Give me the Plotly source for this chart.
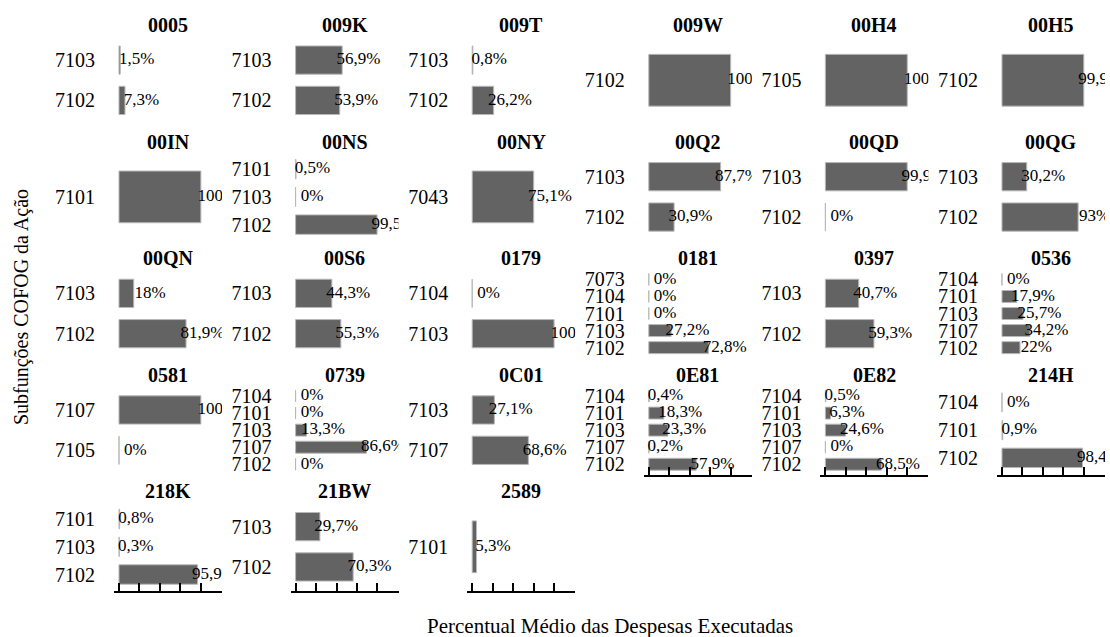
import plotly.graph_objects as go

# ---------------- data ----------------
panels = ["0005", "009K", "009T", "009W", "00H4", "00H5",
          "00IN", "00NS", "00NY", "00Q2", "00QD", "00QG",
          "00QN", "00S6", "0179", "0181", "0397", "0536",
          "0581", "0739", "0C01", "0E81", "0E82", "214H",
          "218K", "21BW", "2589"]

categories = [
    ["7103", "7102"], ["7103", "7102"], ["7103", "7102"], ["7102"], ["7105"], ["7102"],
    ["7101"], ["7101", "7103", "7102"], ["7043"], ["7103", "7102"], ["7103", "7102"], ["7103", "7102"],
    ["7103", "7102"], ["7103", "7102"], ["7104", "7103"], ["7073", "7104", "7101", "7103", "7102"],
    ["7103", "7102"], ["7104", "7101", "7103", "7107", "7102"],
    ["7107", "7105"], ["7104", "7101", "7103", "7107", "7102"], ["7103", "7107"],
    ["7104", "7101", "7103", "7107", "7102"], ["7104", "7101", "7103", "7107", "7102"],
    ["7104", "7101", "7102"],
    ["7101", "7103", "7102"], ["7103", "7102"], ["7101"],
]

values = [
    [1.5, 7.3], [56.9, 53.9], [0.8, 26.2], [100], [100], [99.9],
    [100], [0.5, 0, 99.5], [75.1], [87.7, 30.9], [99.9, 0], [30.2, 93],
    [18, 81.9], [44.3, 55.3], [0, 100], [0, 0, 0, 27.2, 72.8],
    [40.7, 59.3], [0, 17.9, 25.7, 34.2, 22],
    [100, 0], [0, 0, 13.3, 86.6, 0], [27.1, 68.6],
    [0.4, 18.3, 23.3, 0.2, 57.9], [0.5, 6.3, 24.6, 0, 68.5],
    [0, 0.9, 98.4],
    [0.8, 0.3, 95.9], [29.7, 70.3], [5.3],
]

x_ticks = [0, 25, 50, 75, 100, 125]
x_title = "Percentual Médio das Despesas Executadas"
y_title = "Subfunções COFOG da Ação"

# ---------------- layout geometry ----------------
W, H = 1110, 637
NCOL = 6
COL_LEFT0, COL_STEP, PANEL_W = 114, 176.6, 108
ROW_TOP0, ROW_STEP, PANEL_H = 35, 117, 89
LABEL_OFFSET = 20  # data units to the right of bar end for label centre

SERIF = "Liberation Serif, Times New Roman, serif"
BAR_FILL = "#636363"
BAR_LINE = "#b8b8b8"

def fmt(v):
    s = f"{v:g}".replace(".", ",")
    return s + "%"

fig = go.Figure()
n = len(panels)
annotations = []
layout_axes = {}

for i, (name, cats, vals) in enumerate(zip(panels, categories, values)):
    r, c = divmod(i, NCOL)
    idx = i + 1
    xa = "x" if idx == 1 else f"x{idx}"
    ya = "y" if idx == 1 else f"y{idx}"
    xkey = "xaxis" if idx == 1 else f"xaxis{idx}"
    ykey = "yaxis" if idx == 1 else f"yaxis{idx}"

    left = COL_LEFT0 + COL_STEP * c
    top = ROW_TOP0 + ROW_STEP * r
    xd = [left / W, min((left + PANEL_W) / W, 1.0)]
    yd = [1 - (top + PANEL_H) / H, 1 - top / H]

    fig.add_trace(go.Bar(
        x=vals, y=cats, orientation="h", xaxis=xa, yaxis=ya, width=0.7,
        marker=dict(color=BAR_FILL, line=dict(color=BAR_LINE, width=1)),
        showlegend=False, hoverinfo="x+y"))
    fig.add_trace(go.Scatter(
        x=[v + LABEL_OFFSET for v in vals], y=cats, mode="text",
        text=[fmt(v) for v in vals], textposition="middle center",
        textfont=dict(family=SERIF, size=17, color="black"),
        xaxis=xa, yaxis=ya, cliponaxis=True, showlegend=False, hoverinfo="skip"))

    below = i + NCOL
    is_bottom = below >= n
    xaxis = dict(domain=xd, anchor=ya, range=[-6.1, 125.8], tickvals=x_ticks,
                 showticklabels=False, showgrid=False, zeroline=False, fixedrange=True)
    if is_bottom:
        xaxis.update(showline=True, linecolor="black", linewidth=1.5,
                     ticks="inside", ticklen=8, tickwidth=1.5, tickcolor="black")
    else:
        xaxis.update(showline=False, ticks="")
    layout_axes[xkey] = xaxis

    nc = len(cats)
    layout_axes[ykey] = dict(
        domain=yd, anchor=xa, type="category", categoryorder="array",
        categoryarray=cats, tickmode="array", tickvals=cats, ticktext=cats,
        range=[nc - 0.4, -0.6], showgrid=False,
        zeroline=False, showline=False, ticks="", ticklabelstandoff=18,
        tickfont=dict(family=SERIF, size=20, color="black"), fixedrange=True)

    annotations.append(dict(
        text=f"<b>{name}</b>", x=(left + PANEL_W / 2) / W, y=1 - (top - 11) / H,
        xref="paper", yref="paper", showarrow=False, xanchor="center", yanchor="middle",
        font=dict(family=SERIF, size=20, color="black")))

annotations.append(dict(text=x_title, x=610 / W, y=1 - 627 / H,
                        xref="paper", yref="paper",
                        showarrow=False, xanchor="center", yanchor="middle",
                        font=dict(family=SERIF, size=21, color="black")))
annotations.append(dict(text=y_title, x=21 / W, y=1 - 307 / H,
                        xref="paper", yref="paper",
                        showarrow=False, xanchor="center", yanchor="middle", textangle=-90,
                        font=dict(family=SERIF, size=20, color="black")))

fig.update_layout(
    width=W, height=H, margin=dict(l=0, r=0, t=0, b=0),
    paper_bgcolor="white", plot_bgcolor="white", bargap=0.3,
    annotations=annotations, **layout_axes)

fig.write_html("out.html", config={"displayModeBar": False},
               post_script="document.body.style.margin='0';document.body.style.overflow='hidden';")
